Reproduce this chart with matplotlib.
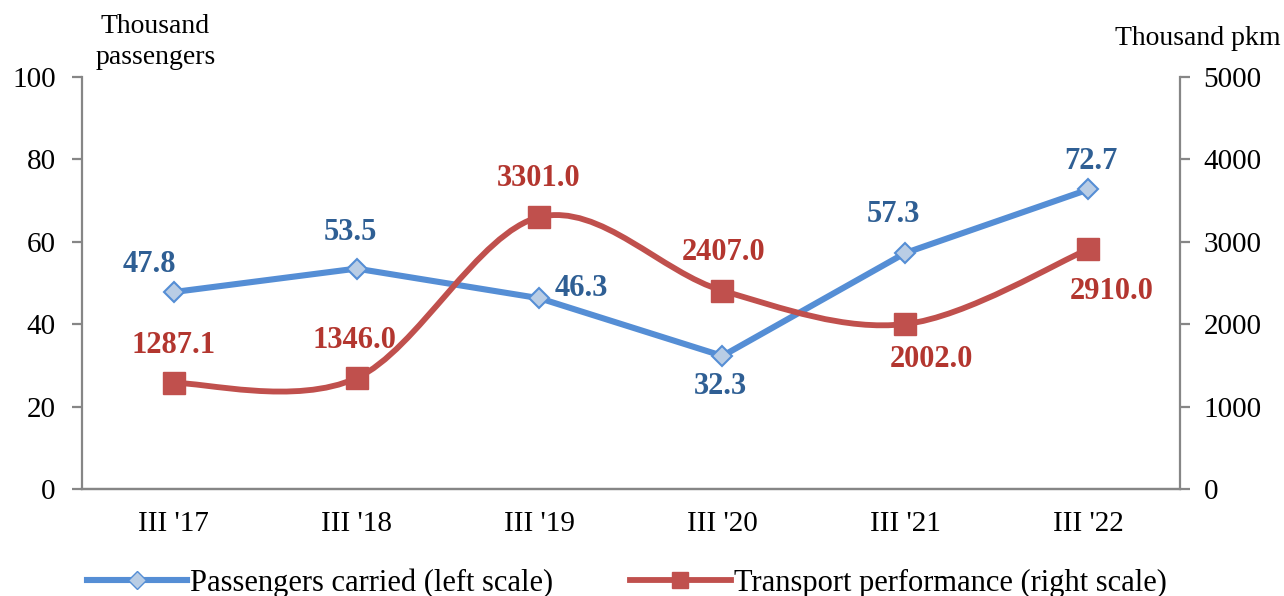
import matplotlib.pyplot as plt
from matplotlib.path import Path
from matplotlib.patches import PathPatch
from matplotlib.lines import Line2D

plt.rcParams['font.family'] = ['Liberation Serif', 'DejaVu Serif']

# =====================================================
# DATA
# =====================================================

quarters = ["III '17", "III '18", "III '19", "III '20", "III '21", "III '22"]
passengers = [47.8, 53.5, 46.3, 32.3, 57.3, 72.7]          # thousand, left scale
performance = [1287.1, 1346.0, 3301.0, 2407.0, 2002.0, 2910.0]  # thousand pkm, right scale

# label offsets in pixels (dx, dy up)
pass_offsets = [(-24, 28), (-6, 36), (42, 10), (-2, -31), (-12, 38), (3, 28)]
perf_offsets = [(0, 37), (-2, 38), (-1, 39), (1, 38), (26, -35), (23, -42)]

BLUE = "#558ED5"
BLUE_FILL = "#B9CDE5"
BLUE_TXT = "#2F5F94"
RED = "#C0504D"
RED_TXT = "#B3362F"
GREY = "#868686"

# =====================================================
# FIGURE
# =====================================================

fig = plt.figure(figsize=(12.84, 5.96), dpi=100)
ax = fig.add_axes([0.0639, 0.1795, 0.855, 0.6913])
ax2 = ax.twinx()

x = list(range(len(quarters)))

ax.plot(x, passengers, color=BLUE, linewidth=4.4, marker="D",
        markersize=10, markerfacecolor=BLUE_FILL, markeredgecolor=BLUE,
        markeredgewidth=1.5, zorder=3)

# smooth (catmull-rom) curve through the performance points
pts = list(zip(x, performance))
verts = [pts[0]]
codes = [Path.MOVETO]
for i in range(len(pts) - 1):
    p0 = pts[max(i - 1, 0)]
    p1 = pts[i]
    p2 = pts[i + 1]
    p3 = pts[min(i + 2, len(pts) - 1)]
    c1 = (p1[0] + (p2[0] - p0[0]) / 6, p1[1] + (p2[1] - p0[1]) / 6)
    c2 = (p2[0] - (p3[0] - p1[0]) / 6, p2[1] - (p3[1] - p1[1]) / 6)
    verts += [c1, c2, p2]
    codes += [Path.CURVE4] * 3

ax2.add_patch(PathPatch(Path(verts, codes), facecolor="none",
                        edgecolor=RED, linewidth=4.2, capstyle="round"))
ax2.plot(x, performance, linestyle="none", marker="s", markersize=15.5,
         color=RED, zorder=4)

# =====================================================
# LABELS
# =====================================================

px = 72 / 100
for xi, v, (dx, dy) in zip(x, passengers, pass_offsets):
    ax.annotate(f"{v:.1f}", (xi, v), xytext=(dx * px, dy * px),
                textcoords="offset points", ha="center", va="center",
                fontsize=22, fontweight="bold", color=BLUE_TXT)

for xi, v, (dx, dy) in zip(x, performance, perf_offsets):
    ax2.annotate(f"{v:.1f}", (xi, v), xytext=(dx * px, dy * px),
                 textcoords="offset points", ha="center", va="center",
                 fontsize=22, fontweight="bold", color=RED_TXT)

# =====================================================
# AXES
# =====================================================

ax.set_xlim(-0.5, 5.5)
ax.set_ylim(0, 100)
ax2.set_ylim(0, 5000)
ax.set_yticks([0, 20, 40, 60, 80, 100])
ax2.set_yticks([0, 1000, 2000, 3000, 4000, 5000])
ax.set_xticks(x)
ax.set_xticklabels(quarters)

for a in (ax, ax2):
    a.spines["top"].set_visible(False)
    for s in ("left", "right", "bottom"):
        a.spines[s].set_color(GREY)
        a.spines[s].set_linewidth(1.6)
    a.tick_params(axis="y", colors=GREY, length=7, width=1.6,
                  labelsize=21, labelcolor="black")

ax.tick_params(axis="y", pad=12)
ax2.tick_params(axis="y", pad=10)
ax2.spines["left"].set_visible(False)
ax.spines["right"].set_visible(False)
ax.tick_params(axis="x", length=0, labelsize=21, pad=16)

fig.text(0.121, 0.955, "Thousand", ha="center", va="center", fontsize=20)
fig.text(0.121, 0.903, "passengers", ha="center", va="center", fontsize=20)
fig.text(0.997, 0.935, "Thousand pkm", ha="right", va="center", fontsize=20)

# =====================================================
# LEGEND
# =====================================================

h1 = Line2D([], [], color=BLUE, linewidth=4.4, marker="D", markersize=9,
            markerfacecolor=BLUE_FILL, markeredgecolor=BLUE)
h2 = Line2D([], [], color=RED, linewidth=4.2, marker="s", markersize=12)
fig.legend([h1, h2],
           ["Passengers carried (left scale)", "Transport performance (right scale)"],
           loc="center", bbox_to_anchor=(0.488, 0.022), ncol=2, frameon=False,
           fontsize=22, handlelength=3.3, handletextpad=0.1, columnspacing=2.5)

fig.savefig("out.png", dpi=100)
